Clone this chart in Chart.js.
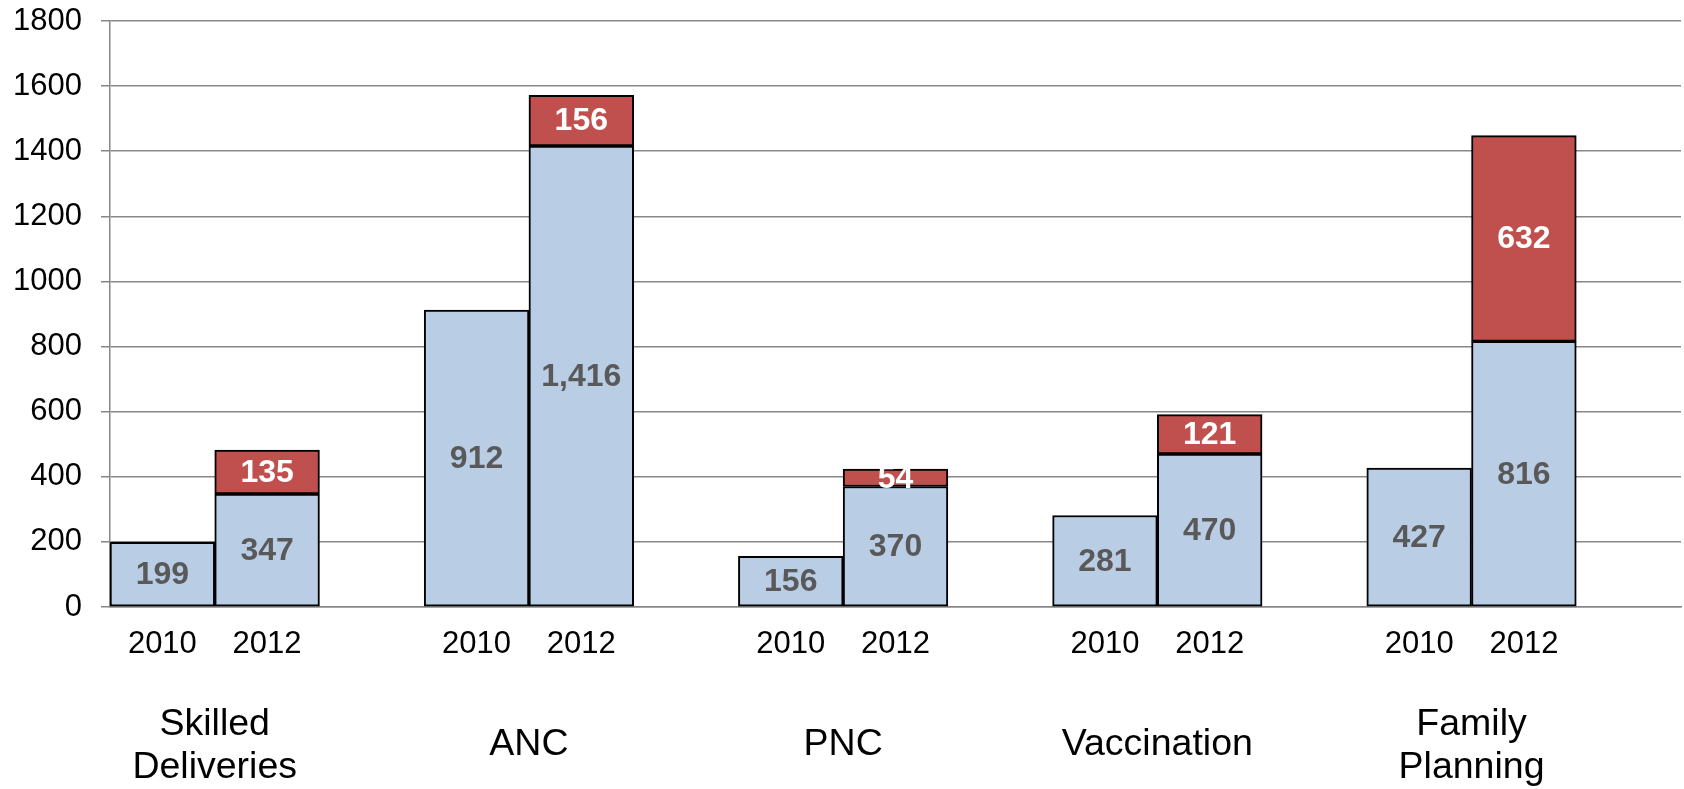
<!DOCTYPE html>
<html>
<head>
<meta charset="utf-8">
<script src="https://cdn.jsdelivr.net/npm/chart.js@4/dist/chart.umd.min.js"></script>
<style>
  html, body { margin: 0; padding: 0; background: #ffffff; }
  canvas { display: block; }
</style>
</head>
<body>
<canvas id="c" width="1684" height="789"></canvas>
<script>
// ---- data ----
const groups = [["Skilled", "Deliveries"], ["ANC"], ["PNC"], ["Vaccination"], ["Family", "Planning"]];
const years = ["2010", "2012"];
const base2010 = [199, 912, 156, 281, 427];
const base2012 = [347, 1416, 370, 470, 816];
const added2012 = [135, 156, 54, 121, 632];
const yTicks = [0, 200, 400, 600, 800, 1000, 1200, 1400, 1600, 1800];

// ---- build category table (2010, 2012, blank spacer per group) ----
const labels = [];
const blueData = [];
const redData = [];
groups.forEach((g, i) => {
  labels.push(years[0]); blueData.push(base2010[i]); redData.push(null);
  labels.push(years[1]); blueData.push(base2012[i]); redData.push(added2012[i]);
  labels.push(""); blueData.push(null); redData.push(null);
});

const FONT = "'Liberation Sans', Arial, sans-serif";

const valueLabels = {
  id: 'valueLabels',
  afterDatasetsDraw(chart) {
    const ctx = chart.ctx;
    ctx.save();
    ctx.font = "bold 32px " + FONT;
    ctx.textAlign = 'center';
    ctx.textBaseline = 'middle';
    chart.data.datasets.forEach((ds, di) => {
      const meta = chart.getDatasetMeta(di);
      meta.data.forEach((el, i) => {
        const v = ds.data[i];
        if (v === null || v === undefined) return;
        const p = el.getProps(['x', 'y', 'base'], true);
        ctx.fillStyle = ds.labelColor;
        ctx.fillText(v.toLocaleString('en-US'), p.x, (p.y + p.base) / 2 + 1);
      });
    });
    ctx.restore();
  }
};

const groupLabels = {
  id: 'groupLabels',
  afterDraw(chart) {
    const ctx = chart.ctx;
    const xs = chart.scales.x;
    const bottom = chart.chartArea.bottom;
    ctx.save();
    ctx.font = "37.5px " + FONT;
    ctx.fillStyle = '#000000';
    ctx.textAlign = 'center';
    ctx.textBaseline = 'middle';
    groups.forEach((g, i) => {
      const cx = (xs.getPixelForValue(i * 3) + xs.getPixelForValue(i * 3 + 1)) / 2;
      if (g.length === 1) {
        ctx.fillText(g[0], cx, bottom + 138);
      } else {
        ctx.fillText(g[0], cx, bottom + 118);
        ctx.fillText(g[1], cx, bottom + 161);
      }
    });
    ctx.restore();
  }
};

new Chart(document.getElementById('c'), {
  type: 'bar',
  data: {
    labels: labels,
    datasets: [
      {
        label: 'base',
        data: blueData,
        backgroundColor: '#B9CDE5',
        borderColor: '#000000',
        borderWidth: 2,
        borderSkipped: false,
        barPercentage: 1,
        categoryPercentage: 1,
        labelColor: '#595959'
      },
      {
        label: 'added',
        data: redData,
        backgroundColor: '#C0504D',
        borderColor: '#000000',
        borderWidth: 2,
        borderSkipped: false,
        barPercentage: 1,
        categoryPercentage: 1,
        labelColor: '#FFFFFF'
      }
    ]
  },
  options: {
    responsive: false,
    animation: false,
    layout: { padding: { top: 21, right: 3, left: 0, bottom: 0 } },
    plugins: {
      legend: { display: false },
      tooltip: { enabled: false },
      title: { display: false }
    },
    scales: {
      x: {
        stacked: true,
        grid: { display: false, drawTicks: false },
        border: { display: true, color: '#878787', width: 1.5 },
        ticks: {
          color: '#000000',
          font: { family: FONT, size: 31 },
          padding: 19,
          maxRotation: 0,
          autoSkip: false
        },
        afterFit(scale) { scale.height = 182; scale.paddingLeft = 0; scale.paddingRight = 0; }
      },
      y: {
        stacked: true,
        min: yTicks[0],
        max: yTicks[yTicks.length - 1],
        afterBuildTicks(scale) { scale.ticks = yTicks.map(v => ({ value: v })); },
        grid: { color: '#878787', lineWidth: 1.5, drawTicks: true, tickLength: 9 },
        border: { display: true, color: '#878787', width: 1.5 },
        ticks: {
          color: '#000000',
          font: { family: FONT, size: 31 },
          padding: 19,
          callback: (v) => String(v)
        },
        afterFit(scale) { scale.width = 110; scale.paddingTop = 0; scale.paddingBottom = 0; }
      }
    }
  },
  plugins: [valueLabels, groupLabels]
});
</script>
</body>
</html>
